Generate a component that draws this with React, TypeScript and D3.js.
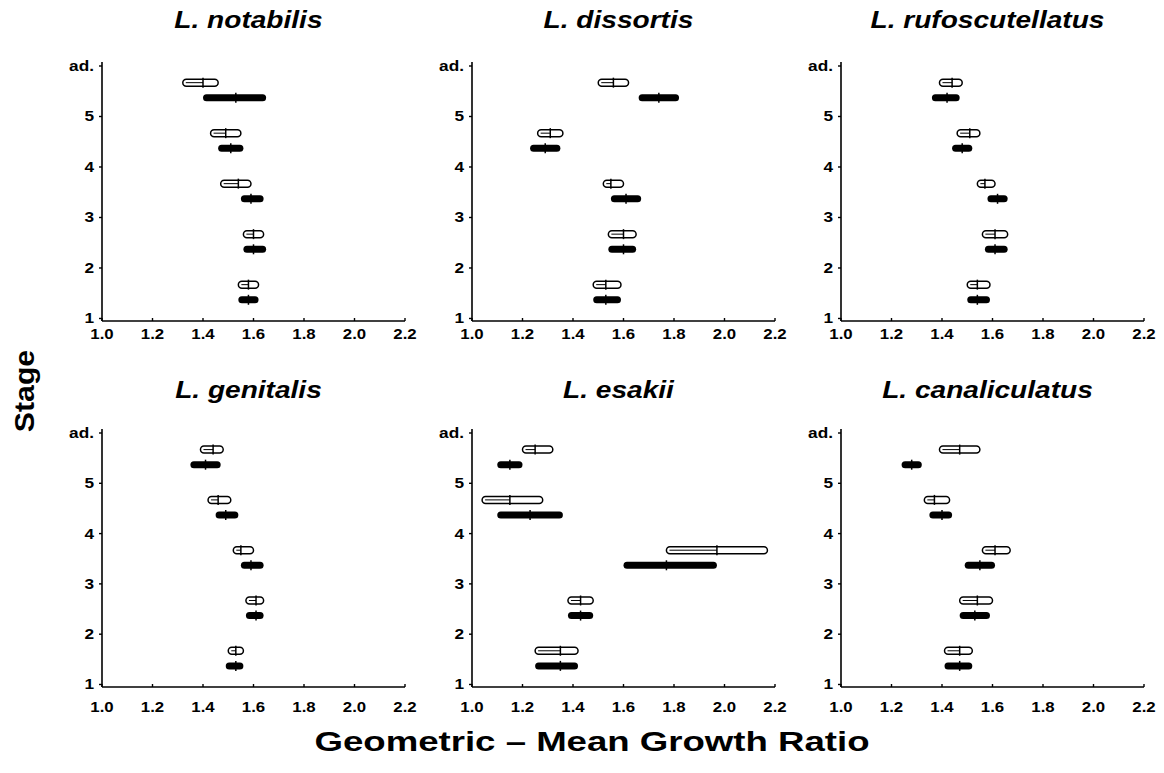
import * as d3 from 'd3'

// Growth from stage k to k+1 (k = 1..5, 5 -> adult): [lower, mean, upper]
const stages = [1, 2, 3, 4, 5]
const yTickLabels = ['1', '2', '3', '4', '5', 'ad.']
const xTicks = [1.0, 1.2, 1.4, 1.6, 1.8, 2.0, 2.2]

const species = [
  'L. notabilis',
  'L. dissortis',
  'L. rufoscutellatus',
  'L. genitalis',
  'L. esakii',
  'L. canaliculatus'
]

const notabilisOpen = [[1.54, 1.58, 1.62], [1.56, 1.6, 1.64], [1.47, 1.54, 1.59], [1.43, 1.49, 1.55], [1.32, 1.4, 1.46]]
const notabilisFilled = [[1.54, 1.58, 1.62], [1.56, 1.6, 1.65], [1.55, 1.59, 1.64], [1.46, 1.51, 1.56], [1.4, 1.53, 1.65]]

const dissortisOpen = [[1.48, 1.53, 1.59], [1.54, 1.6, 1.65], [1.52, 1.55, 1.6], [1.26, 1.31, 1.36], [1.5, 1.56, 1.62]]
const dissortisFilled = [[1.48, 1.53, 1.59], [1.54, 1.6, 1.65], [1.55, 1.61, 1.67], [1.23, 1.29, 1.35], [1.66, 1.74, 1.82]]

const rufoscutellatusOpen = [[1.5, 1.54, 1.59], [1.56, 1.61, 1.66], [1.54, 1.57, 1.61], [1.46, 1.51, 1.55], [1.39, 1.44, 1.48]]
const rufoscutellatusFilled = [[1.5, 1.54, 1.59], [1.57, 1.61, 1.66], [1.58, 1.62, 1.66], [1.44, 1.48, 1.52], [1.36, 1.42, 1.47]]

const genitalisOpen = [[1.5, 1.53, 1.56], [1.57, 1.61, 1.64], [1.52, 1.55, 1.6], [1.42, 1.46, 1.51], [1.39, 1.44, 1.48]]
const genitalisFilled = [[1.49, 1.53, 1.56], [1.57, 1.61, 1.64], [1.55, 1.59, 1.64], [1.45, 1.49, 1.54], [1.35, 1.41, 1.47]]

const esakiiOpen = [[1.25, 1.35, 1.42], [1.38, 1.43, 1.48], [1.77, 1.97, 2.17], [1.04, 1.15, 1.28], [1.2, 1.25, 1.32]]
const esakiiFilled = [[1.25, 1.35, 1.42], [1.38, 1.43, 1.48], [1.6, 1.77, 1.97], [1.1, 1.23, 1.36], [1.1, 1.15, 1.2]]

const canaliculatusOpen = [[1.41, 1.47, 1.52], [1.47, 1.54, 1.6], [1.56, 1.61, 1.67], [1.33, 1.37, 1.43], [1.39, 1.47, 1.55]]
const canaliculatusFilled = [[1.41, 1.47, 1.52], [1.47, 1.53, 1.59], [1.49, 1.55, 1.61], [1.35, 1.4, 1.44], [1.24, 1.28, 1.32]]

const openSeries = [notabilisOpen, dissortisOpen, rufoscutellatusOpen, genitalisOpen, esakiiOpen, canaliculatusOpen]
const filledSeries = [notabilisFilled, dissortisFilled, rufoscutellatusFilled, genitalisFilled, esakiiFilled, canaliculatusFilled]

const W = 1164
const H = 773
const FONT = '"Liberation Sans", Arial, Helvetica, sans-serif'

const colLeft = [102, 472, 841]
const plotWidth = 303
const rows = [
  { top: 66, axisY: 321, titleY: 28, labelY: 339 },
  { top: 433, axisY: 687, titleY: 398, labelY: 712 }
]

function Panel({ idx }: { idx: number }) {
  const col = idx % 3
  const row = rows[Math.floor(idx / 3)]
  const left = colLeft[col]

  const x = d3.scaleLinear().domain([1.0, 2.2]).range([left, left + plotWidth])
  const y = d3.scaleLinear().domain([0.95, 6]).range([row.axisY, row.top])

  const open = openSeries[idx]
  const filled = filledSeries[idx]
  const barH = 7

  return (
    <g>
      {/* title */}
      <text
        transform={`translate(${x(1.58)},${row.titleY}) scale(1.17,1)`}
        textAnchor="middle"
        fontFamily={FONT}
        fontWeight="bold"
        fontStyle="italic"
        fontSize={24}
      >
        {species[idx]}
      </text>

      {/* axes */}
      <line x1={left} x2={left} y1={y(6) - 4} y2={row.axisY} stroke="#000" strokeWidth={1.6} />
      <line x1={left} x2={x(2.2)} y1={row.axisY} y2={row.axisY} stroke="#000" strokeWidth={1.6} />

      {xTicks.map(t => (
        <g key={t}>
          <line x1={x(t)} x2={x(t)} y1={row.axisY} y2={row.axisY - 3} stroke="#000" strokeWidth={1.4} />
          <text
            transform={`translate(${x(t)},${row.labelY}) scale(1.12,1)`}
            textAnchor="middle"
            fontFamily={FONT}
            fontWeight="bold"
            fontSize={15}
          >
            {t.toFixed(1)}
          </text>
        </g>
      ))}

      {yTickLabels.map((lab, i) => (
        <g key={lab}>
          <line x1={left - 3} x2={left} y1={y(i + 1)} y2={y(i + 1)} stroke="#000" strokeWidth={1.4} />
          <text
            transform={`translate(${left - 8},${y(i + 1) + 5}) scale(1.15,1)`}
            textAnchor="end"
            fontFamily={FONT}
            fontWeight="bold"
            fontSize={15}
          >
            {lab}
          </text>
        </g>
      ))}

      {/* open bars */}
      {stages.map((s, i) => {
        const [lo, m, hi] = open[i]
        const cy = y(s + 0.67)
        return (
          <g key={`o${s}`}>
            <rect
              x={x(lo)}
              y={cy - barH / 2}
              width={x(hi) - x(lo)}
              height={barH}
              rx={3.5}
              fill="#fff"
              stroke="#000"
              strokeWidth={1.5}
            />
            <line x1={x(lo) + 3} x2={x(m)} y1={cy} y2={cy} stroke="#000" strokeWidth={1} />
            <line x1={x(m)} x2={x(m)} y1={cy - 5} y2={cy + 5} stroke="#000" strokeWidth={1.5} />
          </g>
        )
      })}

      {/* filled bars */}
      {stages.map((s, i) => {
        const [lo, m, hi] = filled[i]
        const cy = y(s + 0.37)
        return (
          <g key={`f${s}`}>
            <rect
              x={x(lo)}
              y={cy - barH / 2}
              width={x(hi) - x(lo)}
              height={barH}
              rx={3.5}
              fill="#000"
            />
            <line x1={x(m)} x2={x(m)} y1={cy - 5} y2={cy + 5} stroke="#000" strokeWidth={1.5} />
          </g>
        )
      })}
    </g>
  )
}

export default function App() {
  return (
    <svg
      width={W}
      height={H}
      viewBox={`0 0 ${W} ${H}`}
      style={{ position: 'absolute', left: 0, top: 0, background: '#fff' }}
    >
      <rect width={W} height={H} fill="#fff" />
      {species.map((_, i) => (
        <Panel key={i} idx={i} />
      ))}

      <text
        transform={`translate(34,391) rotate(-90) scale(1.08,1)`}
        textAnchor="middle"
        fontFamily={FONT}
        fontWeight="bold"
        fontSize={28}
      >
        Stage
      </text>

      <text
        x={592}
        y={751}
        textAnchor="middle"
        fontFamily={FONT}
        fontWeight="bold"
        fontSize={27}
        textLength={555}
        lengthAdjust="spacingAndGlyphs"
      >
        Geometric – Mean Growth Ratio
      </text>
    </svg>
  )
}
